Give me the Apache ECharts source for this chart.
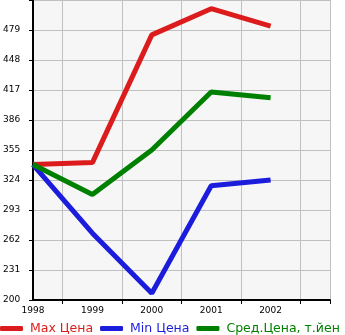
<!DOCTYPE html>
<html><head><meta charset="utf-8">
<script src="https://cdn.jsdelivr.net/npm/echarts@6/dist/echarts.min.js"></script>
<style>html,body{margin:0;padding:0;background:#fff}#c{width:345px;height:335px}</style>
</head><body><div id="c"></div>
<script>
var years = [1998, 1999, 2000, 2001, 2002];
var maxPrice = [340, 342, 474, 501, 483];
var minPrice = [340, 269, 207, 318, 324];
var avgPrice = [340, 309, 355, 415, 409];
var seriesNames = ['Max Цена', 'Min Цена', 'Сред.Цена, т.йен'];
var colors = ['#dc1c1c', '#1c1cdc', '#008000'];
var yTicks = [200, 231, 262, 293, 324, 355, 386, 417, 448, 479];

function pairs(vals){ return years.map(function(y,i){ return [y, vals[i]]; }); }

var chart = echarts.init(document.getElementById('c'), null, {renderer:'canvas'});
var font = 'DejaVu Sans';
chart.setOption({
  animation: false,
  grid: {left: 31, right: 15, top: 0, bottom: 35, show: true, backgroundColor: '#f6f6f6', borderWidth: 0},
  xAxis: {
    type: 'value', min: 1998, max: 2003, interval: 0.5,
    axisLine: {show: true, onZero: false, lineStyle: {color: '#000', width: 2}},
    axisTick: {show: true, length: 4, lineStyle: {color: '#000', width: 1}, customValues: [1998.5, 1999.5, 2000.5, 2001.5, 2002.5, 2003]},
    axisLabel: {customValues: years, color: '#000', fontFamily: font, fontSize: 9, margin: 6, formatter: function(v){ return String(v); }},
    splitLine: {show: true, lineStyle: {color: '#c0c0c0', width: 1}}
  },
  yAxis: {
    type: 'value', min: 200, max: 510, interval: 31,
    axisLine: {show: true, onZero: false, lineStyle: {color: '#000', width: 2}},
    axisTick: {show: true, length: 4, lineStyle: {color: '#000', width: 1}},
    axisLabel: {customValues: yTicks, color: '#000', fontFamily: font, fontSize: 9, margin: 30, align: 'left', verticalAlign: 'middle', padding: [0,0,8,0]},
    splitLine: {show: true, lineStyle: {color: '#c0c0c0', width: 1}}
  },
  legend: {
    left: 0, bottom: 0, padding: 0, itemGap: 7, itemWidth: 23, itemHeight: 5, icon: 'roundRect',
    textStyle: {fontFamily: font, fontSize: 12.5, padding: [0,0,0,2]},
    data: seriesNames.map(function(n,i){ return {name: n, textStyle: {color: colors[i]}}; })
  },
  series: [maxPrice, minPrice, avgPrice].map(function(v,i){
    return {name: seriesNames[i], type: 'line', data: pairs(v), showSymbol: false, symbol: 'none',
      lineStyle: {color: colors[i], width: 5}, itemStyle: {color: colors[i]}};
  })
});
</script></body></html>
